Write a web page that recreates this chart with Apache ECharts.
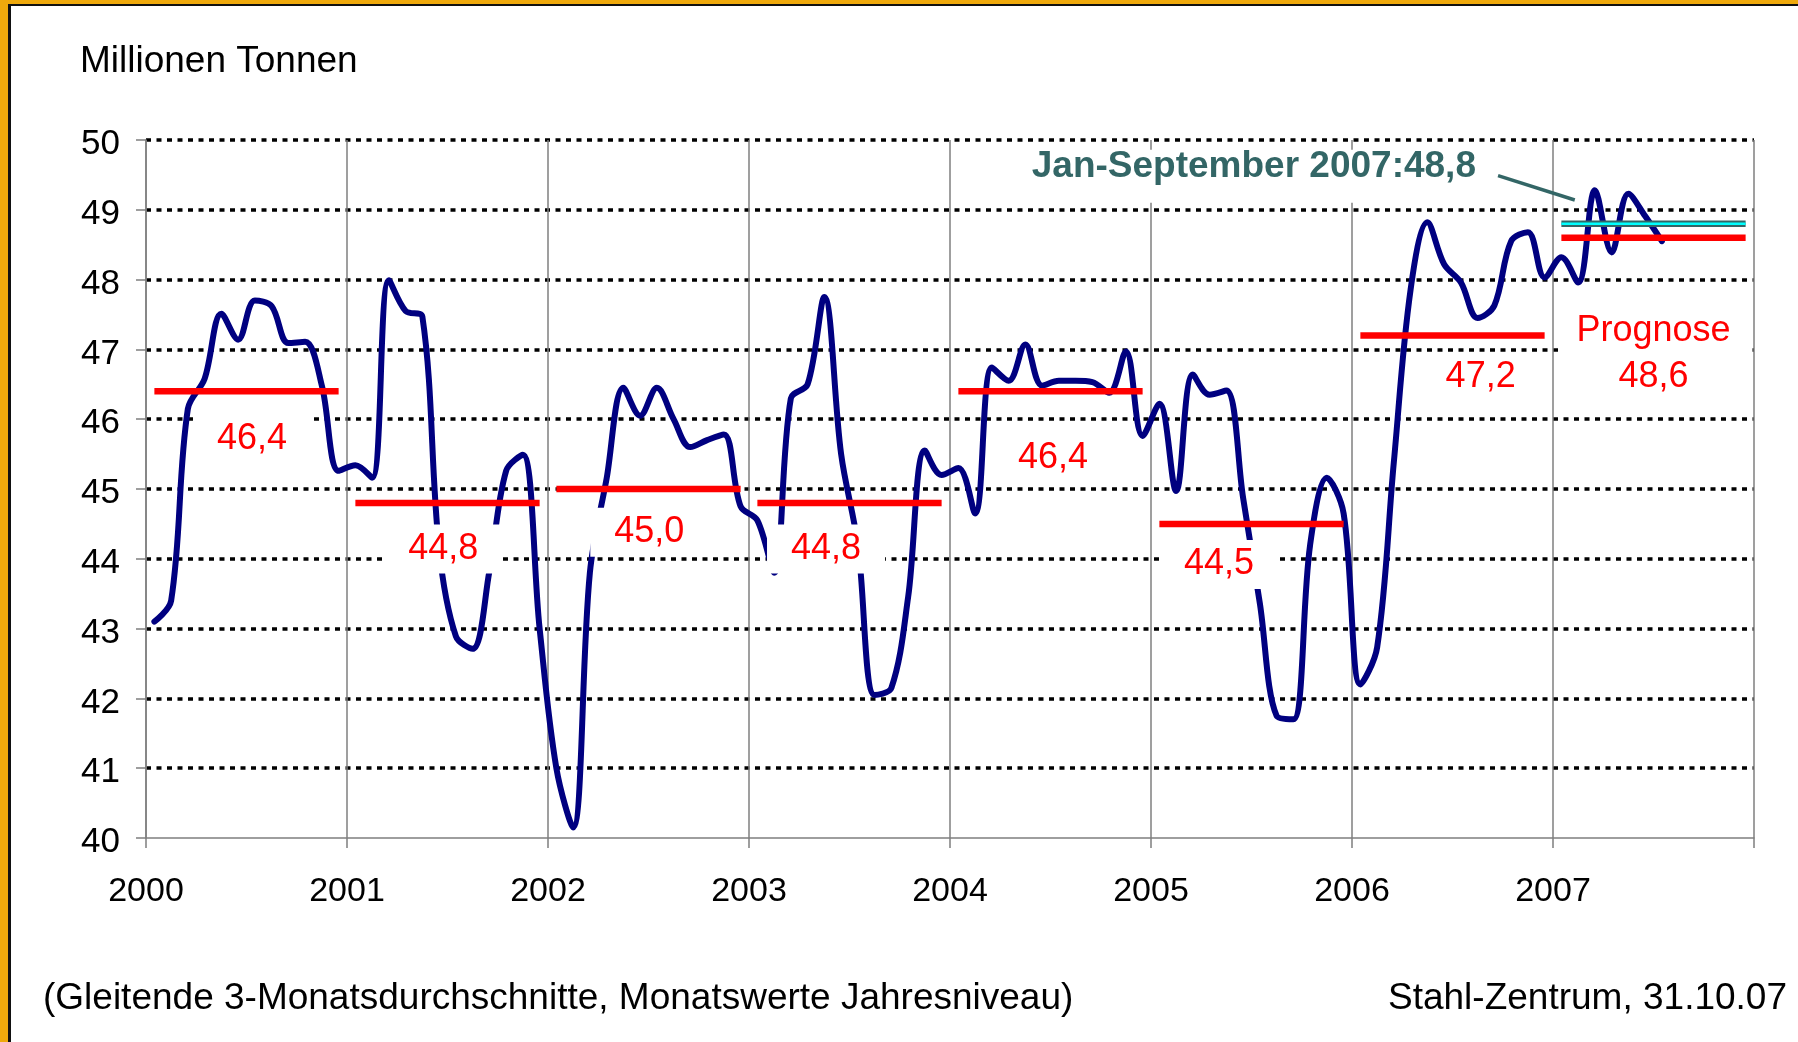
<!DOCTYPE html>
<html>
<head>
<meta charset="utf-8">
<script src="https://cdn.jsdelivr.net/npm/echarts@6/dist/echarts.min.js"></script>
<style>
html,body{margin:0;padding:0;background:#fff;}
#chart{width:1798px;height:1042px;}
</style>
</head>
<body>
<div id="chart"></div>
<script>
// ---- data ----
const yearLabels = ['2000','2001','2002','2003','2004','2005','2006','2007'];
const yTicks = [40,41,42,43,44,45,46,47,48,49,50];
// monthly 3-month moving averages, Jan 2000 .. Jul 2007 (Mio t, annualised)
const values2000 = [43.1,43.4,46.15,46.58,47.51,47.14,47.70,47.62,47.09,47.11,46.48,45.26];
const values2001 = [45.34,45.16,47.99,47.55,47.47,44.14,42.89,42.71,43.82,45.26,45.49,43.0];
const values2002 = [41.0,40.15,43.8,45.15,46.45,46.05,46.45,46.0,45.6,45.7,45.78,44.75];
const values2003 = [44.55,43.8,46.3,46.5,47.75,45.5,44.2,42.05,42.15,43.45,45.55,45.2];
const values2004 = [45.3,44.65,46.74,46.55,47.07,46.48,46.55,46.55,46.53,46.38,46.97,45.76];
const values2005 = [46.22,44.97,46.64,46.35,46.41,44.87,43.36,41.75,41.7,44.2,45.16,44.65];
const values2006 = [42.2,42.73,45.39,47.86,48.82,48.22,47.96,47.45,47.63,48.55,48.68,48.03];
const values2007 = [48.32,47.96,49.28,48.39,49.23,48.91,48.55];
const yearAvg = [46.4,44.8,45.0,44.8,46.4,44.5,47.2,48.6];
const yearAvgText = ['46,4','44,8','45,0','44,8','46,4','44,5','47,2','Prognose\n48,6'];
const ytd2007 = 48.8;
const ytdText = 'Jan-September 2007:48,8';
// annotation anchors in chart coordinates [month index, Mio t]
const labelAnchor = [[6.33,45.72],[17.75,44.14],[30.05,44.38],[40.6,44.14],[54.15,45.45],[64.06,43.92],[79.68,46.60],[90.0,46.94]];
const ytdAnchor = [66.14,49.62];
const ytdBox = [[52.2,49.86],[80.2,49.1]];
const ytdPointer = [[80.72,49.49],[85.3,49.14]];

const monthly = [].concat(values2000,values2001,values2002,values2003,values2004,values2005,values2006,values2007);
const FONT = "'Liberation Sans', Arial, sans-serif";

const chart = echarts.init(document.getElementById('chart'), null, {renderer:'canvas'});

const series = [];
series.push({
  type:'line', z:2, silent:true, smooth:0.35, symbol:'none',
  data: monthly.map((v,i)=>[i+0.5, v]),
  lineStyle:{color:'#000080', width:6, cap:'round', join:'round'},
  markArea:{silent:true, itemStyle:{color:'#ffffff', opacity:1, borderWidth:0},
    label:{show:false},
    data:[[{coord:ytdBox[0]},{coord:ytdBox[1]}]]}
});
series.push({
  type:'scatter', z:3, silent:true, symbolSize:1,
  emphasis:{disabled:true},
  itemStyle:{color:'rgba(0,0,0,0)', opacity:1},
  data: labelAnchor.map((p,k)=>({
    value:p,
    label:{
      formatter: yearAvgText[k],
      lineHeight: k===7 ? 46 : 38,
      padding: k===7 ? [4,18] : [7,24,4,24]
    }
  })),
  label:{show:true, position:'inside', color:'#FF0000', fontSize:36, fontFamily:FONT, opacity:1,
         backgroundColor:'#ffffff', align:'center', verticalAlign:'middle'}
});
series.push({
  type:'scatter', z:3, silent:true, symbolSize:1,
  emphasis:{disabled:true},
  itemStyle:{color:'rgba(0,0,0,0)', opacity:1},
  data:[{value:ytdAnchor}],
  label:{show:true, position:'inside', formatter: ytdText, color:'#336666', fontSize:37, opacity:1,
         fontWeight:'bold', fontFamily:FONT, lineHeight:37}
});
yearAvg.forEach((v,k)=>{
  series.push({
    type:'line', z:4, silent:true, symbol:'none',
    data:[[k*12+0.5, v],[k*12+11.5, v]],
    lineStyle:{color:'#FF0000', width:6.5, cap:'butt'}
  });
});
series.push({
  type:'line', z:4, silent:true, symbol:'none',
  data:[[84.5, ytd2007],[95.5, ytd2007]],
  lineStyle:{color:'#336666', width:6.5, cap:'butt'}
});
series.push({
  type:'line', z:5, silent:true, symbol:'none',
  data:[[84.5, ytd2007],[95.5, ytd2007]],
  lineStyle:{color:'#00FFFF', width:2.4, cap:'butt'}
});
series.push({
  type:'line', z:4, silent:true, symbol:'none',
  data: ytdPointer,
  lineStyle:{color:'#336666', width:3.5}
});

const option = {
  animation:false,
  backgroundColor:'#ffffff',
  grid:{left:146, right:44, top:140, bottom:204, containLabel:false},
  xAxis:{
    type:'value', min:0, max:96, interval:12,
    axisLine:{show:true, onZero:false, lineStyle:{color:'#7f7f7f', width:1.5}},
    axisTick:{show:true, length:10, lineStyle:{color:'#7f7f7f', width:1.5}},
    axisLabel:{show:true, margin:37, fontSize:34, color:'#000', fontFamily:FONT,
      formatter:(v)=> (v%12===0 && v/12 < yearLabels.length) ? yearLabels[v/12] : ''},
    splitLine:{show:true, lineStyle:{color:'#7f7f7f', width:1.5}}
  },
  yAxis:{
    type:'value', min:yTicks[0], max:yTicks[yTicks.length-1], interval:1,
    axisLine:{show:true, lineStyle:{color:'#7f7f7f', width:1.5}},
    axisTick:{show:true, length:10, lineStyle:{color:'#7f7f7f', width:1.5}},
    axisLabel:{show:true, margin:26, fontSize:35, color:'#000', fontFamily:FONT,
      formatter:(v)=> yTicks.indexOf(v) >= 0 ? '{t|' + v + '}' : '',
      rich:{t:{fontSize:35, fontFamily:FONT, color:'#000', padding:[9,0,0,0]}}},
    splitLine:{show:true, lineStyle:{color:['rgba(0,0,0,0)','#000','#000','#000','#000','#000','#000','#000','#000','#000','#000'], width:3.5, type:[5,5.5]}}
  },
  series: series,
  graphic:[
    {type:'rect', shape:{x:0,y:0,width:1798,height:4}, style:{fill:'#EFA90C'}, silent:true, z:100},
    {type:'rect', shape:{x:0,y:0,width:8,height:1042}, style:{fill:'#EFA90C'}, silent:true, z:100},
    {type:'rect', shape:{x:8,y:4,width:1790,height:2}, style:{fill:'#111'}, silent:true, z:100},
    {type:'rect', shape:{x:8,y:4,width:3,height:1038}, style:{fill:'#111'}, silent:true, z:100},
    {type:'text', x:80, y:62, silent:true, z:100,
     style:{text:'Millionen Tonnen', font:"37px "+FONT, fill:'#000', textVerticalAlign:'middle'}},
    {type:'text', x:43, y:999, silent:true, z:100,
     style:{text:'(Gleitende 3-Monatsdurchschnitte, Monatswerte Jahresniveau)', font:"37px "+FONT, fill:'#000', textVerticalAlign:'middle'}},
    {type:'text', x:1787, y:999, silent:true, z:100,
     style:{text:'Stahl-Zentrum, 31.10.07', font:"37px "+FONT, fill:'#000', textAlign:'right', textVerticalAlign:'middle'}}
  ]
};
chart.setOption(option);
</script>
</body>
</html>
